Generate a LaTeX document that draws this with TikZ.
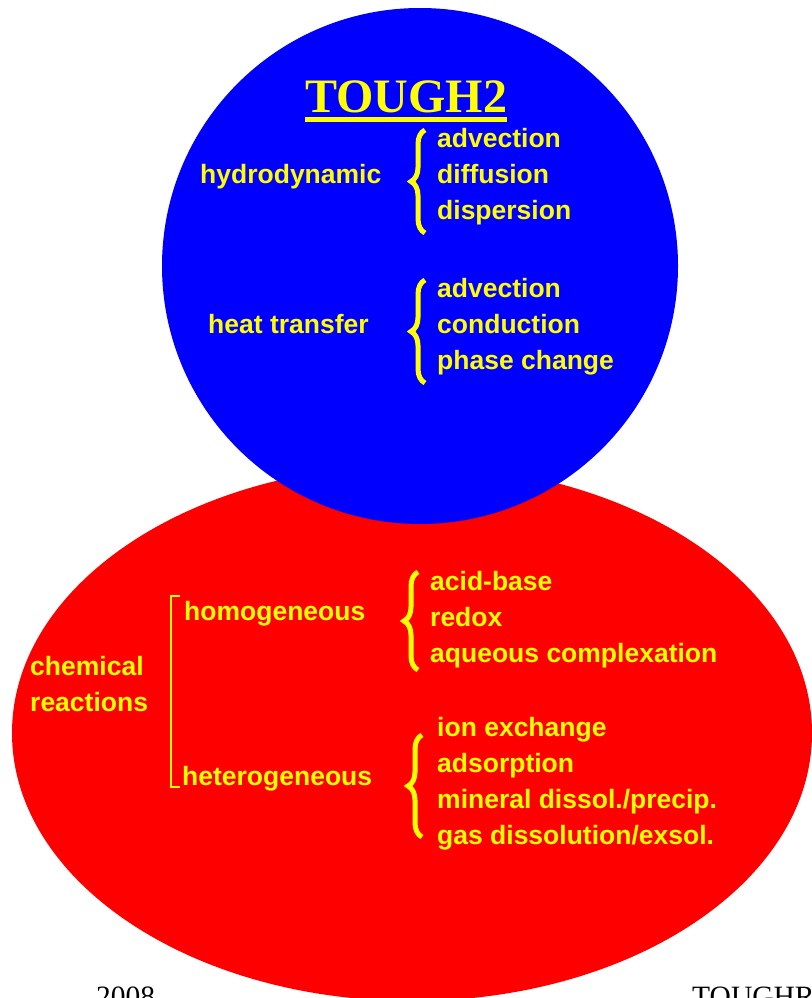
\documentclass[tikz,border=0pt]{standalone}
\usepackage{fontspec}
\setmainfont{Liberation Serif}
\setsansfont{Liberation Sans}
\usetikzlibrary{decorations.pathreplacing}
\definecolor{TgBlue}{RGB}{0,0,255}
\definecolor{TgRed}{RGB}{255,0,0}
\definecolor{TgYellow}{RGB}{255,255,0}
\tikzset{
  tg/item/.style={
    font=\sffamily\bfseries\fontsize{26.5}{30}\selectfont,
    text=TgYellow,
    anchor=base west,
    inner sep=0pt
  },
  tg/title/.style={
    font=\rmfamily\bfseries\fontsize{48}{52}\selectfont,
    text=TgYellow,
    anchor=base west,
    inner sep=0pt
  },
  tg/foot/.style={
    font=\rmfamily\fontsize{29.5}{32}\selectfont,
    text=black,
    anchor=base west,
    inner sep=0pt
  },
  tg/brace/.style={decorate, decoration={brace, amplitude=14pt}, line width=5pt, draw=TgYellow},
  tg/bracket/.style={line width=2pt, draw=TgYellow}
}
\begin{document}
\begin{tikzpicture}[x=1pt,y=-1pt]
  \useasboundingbox (0,0) rectangle (811,998);
  % the two fields
  \fill[TgRed] (412,733) ellipse [x radius=400, y radius=268];
  \fill[TgBlue] (420,266) circle [radius=258];

  % TOUGH2 part
  \node[tg/title] (tough) at (305,112) {TOUGH2};
  \draw[TgYellow, line width=4.5pt] (tough.south west |- 0,119.5) coordinate (ul1) -- (tough.south east |- 0,119.5) coordinate (ul2);

  \node[tg/item] (hydro) at (200,183) {hydrodynamic};
  \node[tg/item] (hadv) at (437,147) {advection};
  \node[tg/item] (hdif) at (437,183) {diffusion};
  \node[tg/item] (hdis) at (437,219) {dispersion};
  \coordinate (hb1) at (425,233);
  \coordinate (hb2) at (425,130);
  \draw[tg/brace] (hb1) -- (hb2);

  \node[tg/item] (heat) at (208,333) {heat transfer};
  \node[tg/item] (tadv) at (437,297) {advection};
  \node[tg/item] (tcon) at (437,333) {conduction};
  \node[tg/item] (tpha) at (437,369) {phase change};
  \coordinate (tb1) at (425,383);
  \coordinate (tb2) at (425,280);
  \draw[tg/brace] (tb1) -- (tb2);

  % chemistry part
  \node[tg/item] (chem) at (30,675) {chemical};
  \node[tg/item] (reac) at (30,711) {reactions};
  \node[tg/item] (homo) at (184,620) {homogeneous};
  \node[tg/item] (hete) at (182,785) {heterogeneous};
  \coordinate (k1) at (180,596);
  \coordinate (k2) at (180,787);
  \draw[tg/bracket] (k1) -| (171,787) -- (k2);

  \node[tg/item] (acid) at (430,590) {acid-base};
  \node[tg/item] (redox) at (430,626) {redox};
  \node[tg/item] (aque) at (430,662) {aqueous complexation};
  \coordinate (ab1) at (418,670);
  \coordinate (ab2) at (418,572);
  \draw[tg/brace] (ab1) -- (ab2);

  \node[tg/item] (ionx) at (437,736) {ion exchange};
  \node[tg/item] (adso) at (437,772) {adsorption};
  \node[tg/item] (mine) at (437,808) {mineral dissol./precip.};
  \node[tg/item] (gasd) at (437,844) {gas dissolution/exsol.};
  \coordinate (eb1) at (422,837);
  \coordinate (eb2) at (422,735);
  \draw[tg/brace] (eb1) -- (eb2);

  % footer
  \node[tg/foot] (year) at (96,1006) {2008};
  \node[tg/foot] (code) at (692,1006) {TOUGHREACT};
\end{tikzpicture}
\end{document}
